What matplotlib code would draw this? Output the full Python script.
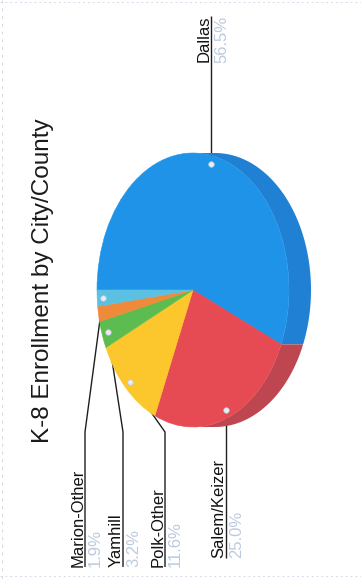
import matplotlib.pyplot as plt
import numpy as np

W, H = 361, 579

TITLE = "K-8 Enrollment by City/County"

# enrollment share per area, clockwise from the left edge of the pie
names = ["Dallas", "Salem/Keizer", "Polk-Other", "Yamhill", "", "Marion-Other"]
shares = [56.5, 25.0, 11.6, 3.2, 1.8, 1.9]
face_colors = ["#1f93e8", "#e64a52", "#fcc62d", "#5cbc4f", "#ef8a3a", "#5cc0e2"]
side_colors = ["#2080d3", "#bd4650", "#d9a823", "#4a9d3f", "#cc7229", "#4aa3c2"]

# page layout in pixels (y grows downward)
CX, CY = 193, 290
RX, RY = 96, 137
DEPTH = 22
DOT_R = 0.94
ELBOW_Y = 432
LINE_X = {"Marion-Other": 85, "Yamhill": 123, "Polk-Other": 165}
END_Y = {"Dallas": 16, "Salem/Keizer": 558, "Polk-Other": 567,
         "Yamhill": 567, "Marion-Other": 567}
FONT = "Liberation Sans"
VALUE_COLOR = "#bccadf"

fig = plt.figure(figsize=(W / 100, H / 100), dpi=100)
ax = fig.add_axes([0, 0, 1, 1])
ax.set_xlim(0, W)
ax.set_ylim(H, 0)
ax.axis("off")

# faint scan edges
ax.plot([2, 2], [0, H], color="#d4d8df", lw=0.7, ls=(0, (3, 5)))
ax.plot([0, W], [2, 2], color="#d3dbea", lw=0.7, ls=(0, (2, 3)))
ax.plot([0, W], [576, 576], color="#d3dbea", lw=0.7, ls=(0, (2, 3)))

pie_ax = fig.add_axes([(CX - RX) / W, (H - CY - RY) / H,
                       (2 * RX + DEPTH) / W, 2 * RY / H])
pie_ax.set_zorder(2)
wedges, _ = pie_ax.pie(shares, colors=face_colors, startangle=180,
                       counterclock=False)
for w, c in zip(wedges, face_colors):
    w.set_edgecolor(c)
    w.set_linewidth(0.4)
pie_ax.set_aspect("auto")
pie_ax.set_xlim(-1, 1 + DEPTH / RX)
pie_ax.set_ylim(-1, 1)
pie_ax.axis("off")

# extruded rim on the right-hand side
dd = DEPTH / RX
for w, c in zip(wedges, side_colors):
    for shift in (-360, 0, 360):
        a = max(w.theta1 + shift, -90)
        b = min(w.theta2 + shift, 90)
        if b <= a:
            continue
        t = np.radians(np.linspace(a, b, 80))
        xs = np.concatenate([np.cos(t), np.cos(t[::-1]) + dd])
        ys = np.concatenate([np.sin(t), np.sin(t[::-1])])
        pie_ax.fill(xs, ys, color=c, lw=0, zorder=0)

text_kw = dict(rotation=90, rotation_mode="anchor", family=FONT, fontsize=12)

for w, name, val in zip(wedges, names, shares):
    if not name:
        continue
    mid = np.radians((w.theta1 + w.theta2) / 2)
    pie_ax.plot(DOT_R * np.cos(mid), DOT_R * np.sin(mid), "o", ms=4,
                mfc="#e8ecf3", mec="#c0c7d4", mew=0.5, zorder=5)
    px = CX + RX * DOT_R * np.cos(mid)
    py = CY - RY * DOT_R * np.sin(mid)
    end = END_Y[name]
    if name in LINE_X:
        lx = LINE_X[name]
        xs, ys = [px, lx, lx], [py, ELBOW_Y, end]
    else:
        lx = px
        xs, ys = [px, px], [py, end]
    ax.plot(xs, ys, color="#1e1e1e", lw=1.0, solid_capstyle="butt")
    ha = "right" if end < CY else "left"
    ax.text(lx - 2.5, end, name, ha=ha, va="baseline", color="#111111", **text_kw)
    ax.text(lx + 3, end, f"{val:.1f}%", ha=ha, va="top", color=VALUE_COLOR, **text_kw)

ax.text(49, 443, TITLE, ha="left", va="baseline", rotation=90,
        rotation_mode="anchor", family=FONT, fontsize=17.5, color="#1a1a1a")

fig.savefig("out.png", dpi=100)
